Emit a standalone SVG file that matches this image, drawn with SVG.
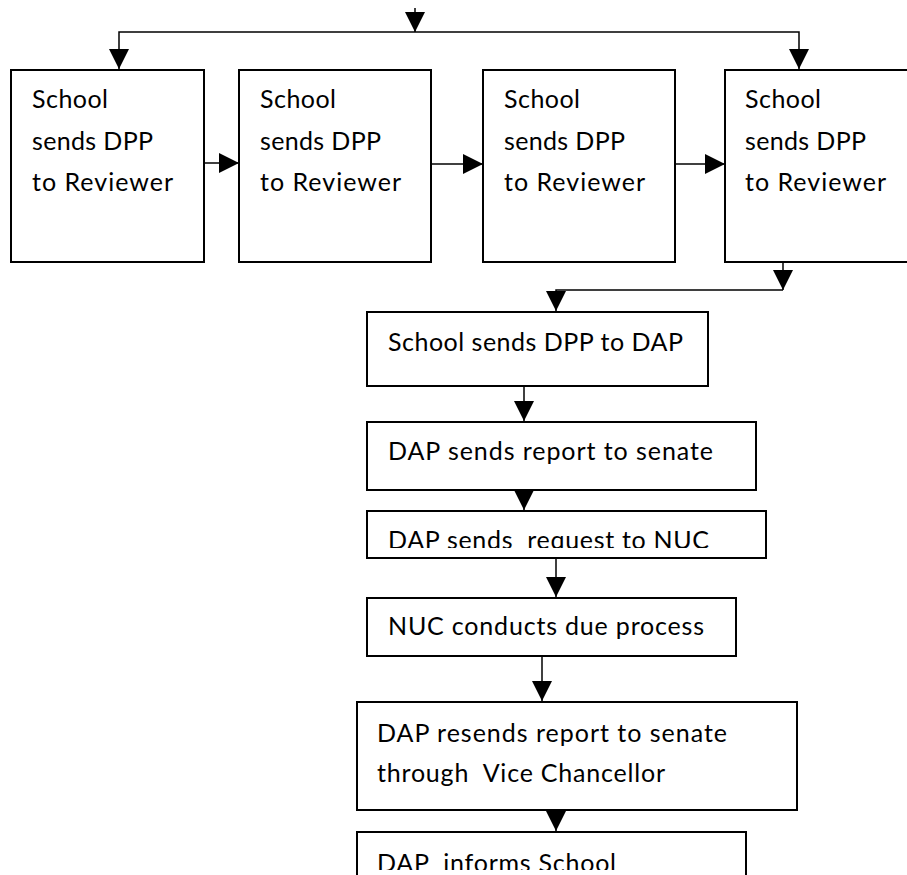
<svg xmlns="http://www.w3.org/2000/svg" width="907" height="875" viewBox="0 0 907 875">
<style>
.box{fill:#fff;stroke:#000;stroke-width:2}
.t{font-family:Lato,"Open Sans","Liberation Sans",sans-serif;font-size:25px;fill:#000;white-space:pre}
.c{fill:none;stroke:#000;stroke-width:1.5}
</style>
<defs>
<marker id="ah" markerUnits="userSpaceOnUse" markerWidth="20" markerHeight="20" refX="20" refY="10" orient="auto" viewBox="0 0 20 20">
<path d="M0,0 L20,10 L0,20 z" fill="#000"/>
</marker>
<clipPath id="clipReq"><rect x="367" y="511" width="399" height="37"/></clipPath>
<clipPath id="clipInf"><rect x="357" y="832" width="389" height="38"/></clipPath>
</defs>
<rect width="907" height="875" fill="#fff"/>
<g id="n1"><rect class="box" x="11" y="70" width="193" height="192"/>
<text class="t" x="32" y="108" textLength="76">School</text>
<text class="t" x="32" y="150" textLength="121">sends DPP</text>
<text class="t" x="32" y="191" textLength="141">to Reviewer</text></g>
<g id="n2"><rect class="box" x="239" y="70" width="192" height="192"/>
<text class="t" x="260" y="108" textLength="76">School</text>
<text class="t" x="260" y="150" textLength="121">sends DPP</text>
<text class="t" x="260" y="191" textLength="141">to Reviewer</text></g>
<g id="n3"><rect class="box" x="483" y="70" width="192" height="192"/>
<text class="t" x="504" y="108" textLength="76">School</text>
<text class="t" x="504" y="150" textLength="121">sends DPP</text>
<text class="t" x="504" y="191" textLength="141">to Reviewer</text></g>
<g id="n4"><rect class="box" x="725" y="70" width="192" height="192"/>
<text class="t" x="745" y="108" textLength="76">School</text>
<text class="t" x="745" y="150" textLength="121">sends DPP</text>
<text class="t" x="745" y="191" textLength="141">to Reviewer</text></g>
<g id="n5"><rect class="box" x="367" y="312" width="341" height="74"/>
<text class="t" x="388" y="351" textLength="295">School sends DPP to DAP</text></g>
<g id="n6"><rect class="box" x="367" y="422" width="389" height="68"/>
<text class="t" x="388" y="460" textLength="325">DAP sends report to senate</text></g>
<g id="n7"><rect class="box" x="367" y="511" width="399" height="47"/>
<text class="t" x="388" y="549" textLength="321" clip-path="url(#clipReq)">DAP sends  request to NUC</text></g>
<g id="n8"><rect class="box" x="367" y="598" width="369" height="58"/>
<text class="t" x="388" y="635" textLength="316">NUC conducts due process</text></g>
<g id="n9"><rect class="box" x="357" y="702" width="440" height="108"/>
<text class="t" x="377" y="742" textLength="350">DAP resends report to senate</text>
<text class="t" x="377" y="782" textLength="288">through  Vice Chancellor</text></g>
<g id="n10"><rect class="box" x="357" y="832" width="389" height="60"/>
<text class="t" x="377" y="872" textLength="239" clip-path="url(#clipInf)">DAP  informs School</text></g>
<g id="connectors">
<path class="c" d="M415,8 V32" marker-end="url(#ah)"/>
<path class="c" d="M415,32 H119 V69" marker-end="url(#ah)"/>
<path class="c" d="M415,32 H799 V69" marker-end="url(#ah)"/>
<path class="c" d="M204,163 H239" marker-end="url(#ah)"/>
<path class="c" d="M431,164 H483" marker-end="url(#ah)"/>
<path class="c" d="M675,164 H725" marker-end="url(#ah)"/>
<path class="c" d="M783,262 V290" marker-end="url(#ah)"/>
<path class="c" d="M783,290 H556 V311" marker-end="url(#ah)"/>
<path class="c" d="M524,386 V421" marker-end="url(#ah)"/>
<path class="c" d="M524,490 V510" marker-end="url(#ah)"/>
<path class="c" d="M556,558 V597" marker-end="url(#ah)"/>
<path class="c" d="M542,656 V701" marker-end="url(#ah)"/>
<path class="c" d="M556,810 V831" marker-end="url(#ah)"/>
</g>
</svg>
